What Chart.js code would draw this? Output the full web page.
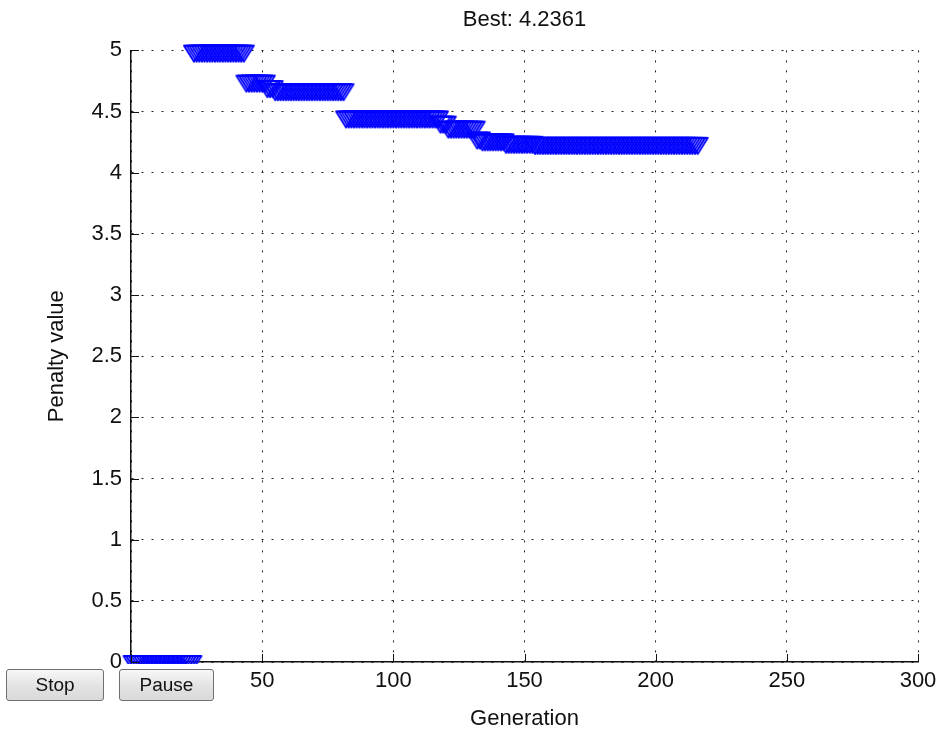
<!DOCTYPE html>
<html>
<head>
<meta charset="utf-8">
<script src="https://cdn.jsdelivr.net/npm/chart.js@4/dist/chart.umd.min.js"></script>
<style>
  html, body { margin: 0; padding: 0; background: #ffffff; }
  #wrap { position: relative; width: 947px; height: 735px; overflow: hidden; }
  #chart { position: absolute; left: 0; top: 0; }
  .btn {
    position: absolute; box-sizing: border-box; height: 32px;
    border: 1px solid #707070; border-radius: 3px;
    background: linear-gradient(#f7f7f7, #e4e4e4 50%, #d9d9d9);
    font-family: "Liberation Sans", Arial, sans-serif; font-size: 19px; color: #111;
    display: flex; align-items: center; justify-content: center;
  }
</style>
</head>
<body>
<div id="wrap">
  <canvas id="chart" width="947" height="735"></canvas>
  <div class="btn" style="left:6px; top:669px; width:98px;">Stop</div>
  <div class="btn" style="left:119px; top:669px; width:95px;">Pause</div>
</div>
<script>
// ---- data ----
const chartTitle = "Best: 4.2361";
const xAxisTitle = "Generation";
const yAxisTitle = "Penalty value";

const xTickValues = [0, 50, 100, 150, 200, 250, 300];
const xTickLabels = ["0", "50", "100", "150", "200", "250", "300"];
const yTickValues = [0, 0.5, 1, 1.5, 2, 2.5, 3, 3.5, 4, 4.5, 5];
const yTickLabels = ["0", "0.5", "1", "1.5", "2", "2.5", "3", "3.5", "4", "4.5", "5"];

const generations = [
  1,2,3,4,5,6,7,8,9,10,11,12,13,14,15,16,17,18,19,20,
  21,22,23,24,25,26,27,28,29,30,31,32,33,34,35,36,37,38,39,40,
  41,42,43,44,45,46,47,48,49,50,51,52,53,54,55,56,57,58,59,60,
  61,62,63,64,65,66,67,68,69,70,71,72,73,74,75,76,77,78,79,80,
  81,82,83,84,85,86,87,88,89,90,91,92,93,94,95,96,97,98,99,100,
  101,102,103,104,105,106,107,108,109,110,111,112,113,114,115,116,117,118,119,120,
  121,122,123,124,125,126,127,128,129,130,131,132,133,134,135,136,137,138,139,140,
  141,142,143,144,145,146,147,148,149,150,151,152,153,154,155,156,157,158,159,160,
  161,162,163,164,165,166,167,168,169,170,171,172,173,174,175,176,177,178,179,180,
  181,182,183,184,185,186,187,188,189,190,191,192,193,194,195,196,197,198,199,200,
  201,202,203,204,205,206,207,208,209,210,211,212,213,214,215,216
];

const bestPenalty = [
  // gens 1-23
  0,0,0,0,0,0,0,0,0,0,
  0,0,0,0,0,0,0,0,0,0,
  0,0,0,
  // gens 24-43
  4.99,4.99,4.99,4.99,4.99,4.99,4.99,4.99,4.99,4.99,
  4.99,4.99,4.99,4.99,4.99,4.99,4.99,4.99,4.99,4.99,
  // gens 44-51
  4.745,4.745,4.745,4.745,4.745,4.745,4.745,4.745,
  // gens 52-54
  4.70,4.70,4.70,
  // gens 55-81
  4.675,4.675,4.675,4.675,4.675,4.675,4.675,4.675,4.675,4.675,
  4.675,4.675,4.675,4.675,4.675,4.675,4.675,4.675,4.675,4.675,
  4.675,4.675,4.675,4.675,4.675,4.675,4.675,
  // gens 82-117
  4.452,4.452,4.452,4.452,4.452,4.452,4.452,4.452,4.452,4.452,
  4.452,4.452,4.452,4.452,4.452,4.452,4.452,4.452,4.452,4.452,
  4.452,4.452,4.452,4.452,4.452,4.452,4.452,4.452,4.452,4.452,
  4.452,4.452,4.452,4.452,4.452,4.452,
  // gens 118-120
  4.41,4.41,4.41,
  // gens 121-131
  4.369,4.369,4.369,4.369,4.369,4.369,4.369,4.369,4.369,4.369,
  4.369,
  // gens 132-133
  4.28,4.28,
  // gens 134-142
  4.265,4.265,4.265,4.265,4.265,4.265,4.265,4.265,4.265,
  // gens 143-153
  4.245,4.245,4.245,4.245,4.245,4.245,4.245,4.245,4.245,4.245,
  4.245,
  // gens 154-216
  4.2361,4.2361,4.2361,4.2361,4.2361,4.2361,4.2361,4.2361,4.2361,4.2361,
  4.2361,4.2361,4.2361,4.2361,4.2361,4.2361,4.2361,4.2361,4.2361,4.2361,
  4.2361,4.2361,4.2361,4.2361,4.2361,4.2361,4.2361,4.2361,4.2361,4.2361,
  4.2361,4.2361,4.2361,4.2361,4.2361,4.2361,4.2361,4.2361,4.2361,4.2361,
  4.2361,4.2361,4.2361,4.2361,4.2361,4.2361,4.2361,4.2361,4.2361,4.2361,
  4.2361,4.2361,4.2361,4.2361,4.2361,4.2361,4.2361,4.2361,4.2361,4.2361,
  4.2361,4.2361,4.2361
];

// ---- styling ----
const FONT = "'Liberation Sans', Arial, Helvetica, sans-serif";
const TEXT_COLOR = "#111111";

// hollow downward triangle marker (MATLAB 'v')
function makeTriangleMarker() {
  const c = document.createElement('canvas');
  c.width = 28; c.height = 28;
  const g = c.getContext('2d');
  g.strokeStyle = '#0000ff';
  g.lineWidth = 2;
  g.lineJoin = 'round';
  g.beginPath();
  g.moveTo(4, 8);
  g.lineTo(24, 8);
  g.lineTo(14, 24);
  g.closePath();
  g.stroke();
  return c;
}
const marker = makeTriangleMarker();

const points = generations.map((g, i) => ({ x: g, y: bestPenalty[i] }));

const inwardTicks = {
  id: 'inwardTicks',
  afterDatasetsDraw(chart) {
    const { ctx, chartArea } = chart;
    const xs = chart.scales.x, ys = chart.scales.y;
    ctx.save();
    ctx.strokeStyle = '#111';
    ctx.lineWidth = 1;
    ctx.beginPath();
    xTickValues.forEach(v => {
      const px = Math.round(xs.getPixelForValue(v)) + 0.5;
      ctx.moveTo(px, chartArea.bottom);
      ctx.lineTo(px, chartArea.bottom - 8);
    });
    yTickValues.forEach(v => {
      const py = Math.round(ys.getPixelForValue(v)) + 0.5;
      ctx.moveTo(chartArea.left, py);
      ctx.lineTo(chartArea.left + 8, py);
    });
    ctx.stroke();
    ctx.restore();
  }
};

new Chart(document.getElementById('chart'), {
  type: 'scatter',
  data: {
    datasets: [{
      label: 'Best penalty value',
      data: points,
      showLine: false,
      pointStyle: marker,
      pointRadius: 12,
      pointHoverRadius: 12,
      clip: { left: 20, top: 20, right: 20, bottom: 2 }
    }]
  },
  options: {
    responsive: false,
    animation: false,
    events: [],
    layout: { padding: { left: 0, right: 29, top: 0, bottom: 0 } },
    plugins: {
      legend: { display: false },
      tooltip: { enabled: false },
      title: {
        display: true,
        fullSize: false,
        text: chartTitle,
        color: TEXT_COLOR,
        font: { family: FONT, size: 22, weight: 'normal', lineHeight: 1.2 },
        padding: { top: 7, bottom: 17 }
      }
    },
    scales: {
      x: {
        type: 'linear',
        min: 0, max: 300,
        afterBuildTicks: s => { s.ticks = xTickValues.map(v => ({ value: v })); },
        afterFit: s => { s.height = 73; },
        ticks: {
          color: TEXT_COLOR,
          font: { family: FONT, size: 22 },
          padding: 6,
          maxRotation: 0,
          autoSkip: false,
          callback: (v) => xTickLabels[xTickValues.indexOf(v)]
        },
        grid: { color: '#222222', lineWidth: 1, drawTicks: false },
        border: { display: true, color: '#111111', width: 1.5, dash: [2, 8] },
        title: {
          display: true, text: xAxisTitle, color: TEXT_COLOR,
          font: { family: FONT, size: 22, lineHeight: 1.2 },
          padding: { top: 3, bottom: 3 }
        }
      },
      y: {
        type: 'linear',
        min: 0, max: 5,
        afterBuildTicks: s => { s.ticks = yTickValues.map(v => ({ value: v })); },
        afterFit: s => { s.width = 131; },
        ticks: {
          color: TEXT_COLOR,
          font: { family: FONT, size: 22 },
          padding: 9,
          autoSkip: false,
          callback: (v) => yTickLabels[yTickValues.indexOf(v)]
        },
        grid: { color: '#222222', lineWidth: 1, drawTicks: false },
        border: { display: true, color: '#111111', width: 1.5, dash: [2, 8] },
        title: {
          display: true, text: yAxisTitle, color: TEXT_COLOR,
          font: { family: FONT, size: 22, lineHeight: 1.2 },
          padding: { top: 44, bottom: 44 }
        }
      }
    }
  },
  plugins: [inwardTicks]
});
</script>
</body>
</html>
